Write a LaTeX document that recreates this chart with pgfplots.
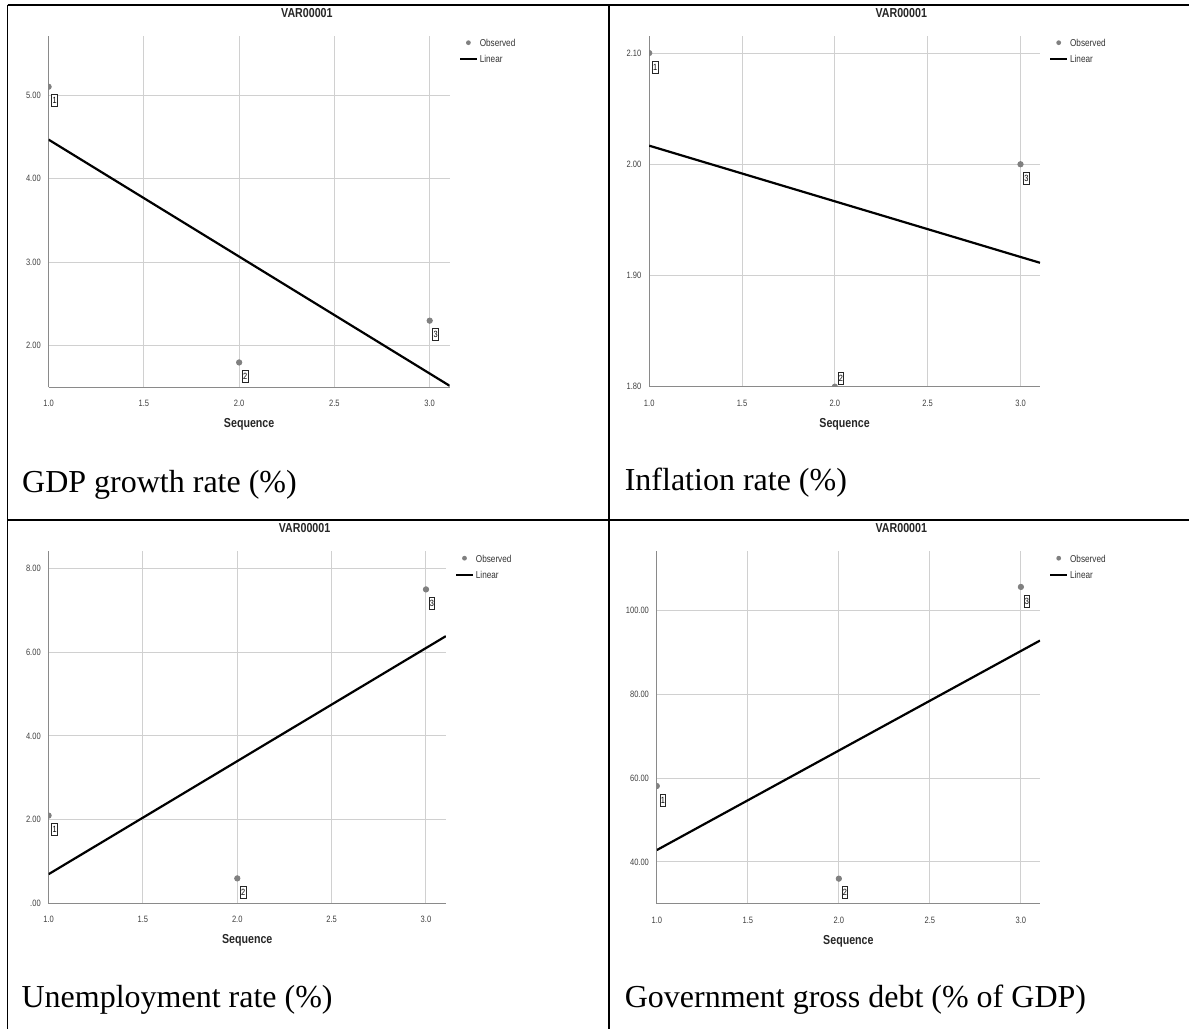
\documentclass[border=0pt]{standalone}
\usepackage{fontspec}
\usepackage{pgfplots}
\pgfplotsset{compat=1.18}
\newfontfamily\spss[FakeStretch=0.82]{Liberation Sans}
\newfontfamily\capfont{Liberation Serif}
\definecolor{gridgray}{HTML}{D0D0D0}
\definecolor{axisgray}{HTML}{8A8A8A}
\definecolor{dotgray}{HTML}{808080}

\pgfplotsset{
  spssaxis/.style={
    scale only axis, anchor=south west,
    xmin=1, xmax=3.105,
    enlargelimits=false,
    axis lines=left,
    axis line style={-, draw=axisgray, line width=0.55pt},
    grid=major,
    major grid style={draw=gridgray, line width=0.5pt},
    major tick length=0pt,
    xtick={1,1.5,2,2.5,3},
    xticklabels={1.0,1.5,2.0,2.5,3.0},
    tick label style={font=\spss\fontsize{4.6}{5}\selectfont, text=black!75},
    xticklabel style={yshift=-3pt},
    yticklabel style={xshift=-0.4pt},
    xlabel={Sequence},
    xlabel style={font=\spss\bfseries\fontsize{6.5}{7}\selectfont, text=black!85, at={(0.5,0)}, anchor=center, yshift=-18.6pt},
    title={VAR00001},
    clip marker paths=true,
    legend style={at={(1,1)}, anchor=north west, xshift=4.6pt, yshift=-1.95pt,
      draw=none, fill=none, inner sep=0pt, outer sep=0pt,
      row sep=4.4pt, column sep=1pt,
      font=\spss\fontsize{5}{6}\selectfont, text=black!80,
      nodes={inner sep=0pt, text height=3.6pt, text depth=0pt}},
    legend cell align=left,
  },
  obs/.style={only marks, mark=*, mark size=1.35pt, color=dotgray,
    mark options={draw=dotgray, fill=dotgray},
    nodes near coords, point meta=explicit symbolic,
    every node near coord/.style={font=\spss\fontsize{4.5}{5}\selectfont, text=black,
      draw=black!85, line width=0.35pt, inner sep=0.4pt, minimum height=6pt,
      minimum width=2.8pt, fill=white, anchor=center, xshift=3pt, yshift=-7pt}},
  obsup/.style={obs, every node near coord/.append style={yshift=11.4pt}},
  fit/.style={no marks, black, line width=1.1pt},
  obslegend/.style={draw=none, legend image code/.code={\path[draw=none, fill=none] (0pt,-1pt) rectangle (8.35pt,1pt); \fill[dotgray, draw=none] (4.2pt,0.3pt) circle (1.2pt);}},
  fitlegend/.style={legend image code/.code={\draw[black, line width=1.1pt] (0pt,0pt) -- (8.35pt,0pt);}},
}

\begin{document}
\begin{tikzpicture}
\path[use as bounding box] (0,0) rectangle (594.5pt,514.5pt);

% table rules
\draw[line width=0.65pt] (3.75pt,512pt) -- (3.75pt,0pt);
\draw[line width=0.65pt] (304.5pt,512pt) -- (304.5pt,0pt);
\draw[line width=0.65pt] (3.75pt,512pt) -- (594.5pt,512pt);
\draw[line width=0.65pt] (3.75pt,254.5pt) -- (594.5pt,254.5pt);
\draw[line width=1.2pt] (3.75pt,512pt) -- (11pt,512pt);
\draw[line width=1.2pt] (293pt,512pt) -- (300pt,512pt);
\draw[line width=1.2pt] (590pt,512pt) -- (594.5pt,512pt);
\draw[line width=1.2pt] (294pt,254.5pt) -- (311.5pt,254.5pt);
\draw[line width=1.2pt] (3.75pt,254.5pt) -- (11.5pt,254.5pt);
\draw[line width=1.2pt] (590pt,254.5pt) -- (594.5pt,254.5pt);

% Panel 1: GDP growth
\begin{axis}[spssaxis, at={(24.3pt,320.75pt)}, width=200.55pt, height=175.85pt,
  ymin=1.5, ymax=5.71,
  ytick={2,3,4,5}, yticklabels={2.00,3.00,4.00,5.00},
  title style={font=\spss\bfseries\fontsize{6.5}{7}\selectfont, text=black!85, at={(0.644,1)}, anchor=center, yshift=5.6pt}]
\addlegendimage{obslegend}\addlegendentry{Observed}
\addlegendimage{fitlegend}\addlegendentry{Linear}
\addplot[obs, forget plot] table[meta=lab] {
x y lab
1 5.1 1
2 1.8 2
3 2.3 3
};
\addplot[fit, forget plot] coordinates {(1,4.467) (3.105,1.520)};
\end{axis}

% Panel 2: Inflation
\begin{axis}[spssaxis, at={(324.6pt,321.15pt)}, width=195.4pt, height=175.45pt,
  ymin=1.8, ymax=2.1155,
  ytick={1.8,1.9,2.0,2.1}, yticklabels={1.80,1.90,2.00,2.10},
  title style={font=\spss\bfseries\fontsize{6.5}{7}\selectfont, text=black!85, at={(0.645,1)}, anchor=center, yshift=5.6pt}]
\addlegendimage{obslegend}\addlegendentry{Observed}
\addlegendimage{fitlegend}\addlegendentry{Linear}
\addplot[obs, forget plot] table[meta=lab] {
x y lab
1 2.1 1
3 2.0 3
};
\addplot[obsup, forget plot] table[meta=lab] {
x y lab
2 1.8 2
};
\addplot[fit, forget plot] coordinates {(1,2.0167) (3.105,1.9114)};
\end{axis}

% Panel 3: Unemployment
\begin{axis}[spssaxis, at={(24.3pt,62.75pt)}, width=198.6pt, height=176.1pt,
  ymin=0, ymax=8.41,
  ytick={0,2,4,6,8}, yticklabels={.00,2.00,4.00,6.00,8.00},
  title style={font=\spss\bfseries\fontsize{6.5}{7}\selectfont, text=black!85, at={(0.6445,1)}, anchor=center, yshift=5.75pt}]
\addlegendimage{obslegend}\addlegendentry{Observed}
\addlegendimage{fitlegend}\addlegendentry{Linear}
\addplot[obs, forget plot] table[meta=lab] {
x y lab
1 2.1 1
2 0.6 2
3 7.5 3
};
\addplot[fit, forget plot] coordinates {(1,0.7) (3.105,6.3835)};
\end{axis}

% Panel 4: Government debt
\begin{axis}[spssaxis, at={(328.4pt,62.6pt)}, width=191.6pt, height=176.25pt,
  ymin=30, ymax=114.1,
  ytick={40,60,80,100}, yticklabels={40.00,60.00,80.00,100.00},
  title style={font=\spss\bfseries\fontsize{6.5}{7}\selectfont, text=black!85, at={(0.638,1)}, anchor=center, yshift=5.75pt}]
\addlegendimage{obslegend}\addlegendentry{Observed}
\addlegendimage{fitlegend}\addlegendentry{Linear}
\addplot[obs, forget plot] table[meta=lab] {
x y lab
1 58.1 1
2 36.0 2
3 105.6 3
};
\addplot[fit, forget plot] coordinates {(1,42.82) (3.105,92.81)};
\end{axis}

% captions
\node[anchor=base west, inner sep=0pt, font=\capfont\fontsize{16}{19}\selectfont] at (10.9pt,268.25pt) {GDP growth rate (\%)};
\node[anchor=base west, inner sep=0pt, font=\capfont\fontsize{16}{19}\selectfont] at (312.2pt,269pt) {Inflation rate (\%)};
\node[anchor=base west, inner sep=0pt, font=\capfont\fontsize{16}{19}\selectfont] at (10.6pt,11pt) {Unemployment rate (\%)};
\node[anchor=base west, inner sep=0pt, font=\capfont\fontsize{16}{19}\selectfont] at (312.2pt,11pt) {Government gross debt (\% of GDP)};
\end{tikzpicture}
\end{document}
